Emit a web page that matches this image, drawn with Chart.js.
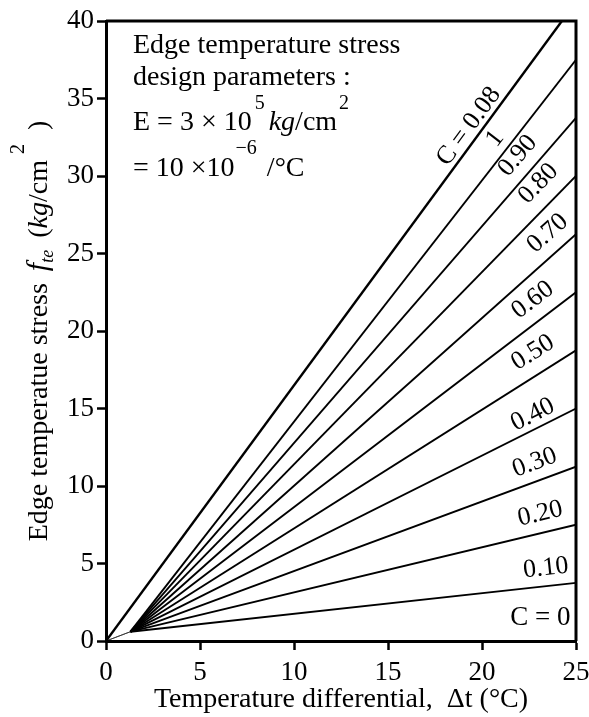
<!DOCTYPE html>
<html>
<head>
<meta charset="utf-8">
<script src="https://cdn.jsdelivr.net/npm/chart.js@4.4.1/dist/chart.umd.min.js"></script>
<style>
html,body{margin:0;padding:0;background:#fff;}
#wrap{width:589px;height:717px;}
</style>
</head>
<body>
<div id="wrap"><canvas id="stressChart" width="589" height="717"></canvas></div>
<script>

// curve names as printed next to each line
const coefficientLabels = ["C = 0.08","1","0.90","0.80","0.70","0.60","0.50","0.40","0.30","0.20","0.10"];

// where each curve starts (deg C, kg/cm2)
const startDt     = [0,0,0,0,0,0,0,0,0,0,0];
const startStress = [0,0,0,0,0,0,0,0,0,0,0];

// the point where the fan of lines meets near the origin
const hubDt     = [0,1.3,1.3,1.3,1.3,1.3,1.3,1.3,1.3,1.3,1.3];
const hubStress = [0,0.6,0.6,0.6,0.6,0.6,0.6,0.6,0.6,0.6,0.6];

// where each curve leaves the plot
const endDt     = [24.25,25,25,25,25,25,25,25,25,25,25];
const endStress = [40,37.5,33.75,30,26.25,22.5,18.75,15,11.25,7.5,3.75];

const xTicks = [0,5,10,15,20,25];
const yTicks = [0,5,10,15,20,25,30,35,40];

const SERIF = '"Liberation Serif", "DejaVu Serif", serif';

// label placement along the lines (layout only)
const tagPlacement = [
    {x:19.3, y:33.2},
    {x:20.7, y:32.4},
    {x:21.9, y:31.3},
    {x:23.0, y:29.5},
    {x:23.5, y:26.3},
    {x:22.7, y:22.0},
    {x:22.7, y:18.6},
    {x:22.7, y:14.6},
    {x:22.8, y:11.5},
    {x:23.1, y:8.2},
    {x:23.4, y:4.7}
];
const baseTag = {text:"C = 0", x:23.1, y:1.5};

const datasets = coefficientLabels.map((name,i)=>{

    return {
        label:name,
        data:[
            {x:startDt[i], y:startStress[i]},
            {x:hubDt[i], y:hubStress[i]},
            {x:endDt[i], y:endStress[i]}
        ],
        borderColor:"#000",
        borderWidth:i===0 ? 2.4 : 1.9,
        pointRadius:0,
        tension:0,
        segment:{
            borderColor:ctx => (ctx.p0DataIndex===0 && i>0) ? "rgba(0,0,0,0.25)" : "#000",
            borderWidth:ctx => (ctx.p0DataIndex===0 && i>0) ? 0.6 : (i===0 ? 2.4 : 1.9)
        }
    };

});

function drawRuns(ctx, runs, x, y){

    let cx = x;

    runs.forEach(r=>{

        ctx.font = r.font;
        cx += r.gap || 0;
        ctx.fillText(r.t, cx, y + (r.dy || 0));
        cx += ctx.measureText(r.t).width;

    });

    return cx - x;

}

function runsWidth(ctx, runs){

    let w = 0;

    runs.forEach(r=>{

        ctx.font = r.font;
        w += (r.gap || 0) + ctx.measureText(r.t).width;

    });

    return w;

}

const decorPlugin = {

    id:"decor",

    afterDatasetsDraw(chart){

        const ctx = chart.ctx;
        const area = chart.chartArea;
        const xs = chart.scales.x;
        const ys = chart.scales.y;

        ctx.save();

        // top and right frame
        ctx.strokeStyle = "#000";
        ctx.lineWidth = 3;
        ctx.beginPath();
        ctx.moveTo(area.left, area.top);
        ctx.lineTo(area.right, area.top);
        ctx.lineTo(area.right, area.bottom);
        ctx.stroke();

        ctx.fillStyle = "#000";
        ctx.textBaseline = "alphabetic";
        ctx.textAlign = "left";

        // design parameter box
        const big = "28px " + SERIF;
        const bigItalic = "italic 28px " + SERIF;
        const sup = "20px " + SERIF;

        drawRuns(ctx, [{t:"Edge temperature stress", font:big}], 133, 53);
        drawRuns(ctx, [{t:"design parameters :", font:big}], 133, 85);
        drawRuns(ctx, [
            {t:"E = 3 \u00d7 10", font:big},
            {t:"5", font:sup, dy:-21, gap:3},
            {t:"kg", font:bigItalic, gap:4},
            {t:"/cm", font:big},
            {t:"2", font:sup, dy:-21, gap:2}
        ], 133, 130);
        drawRuns(ctx, [
            {t:"= 10 \u00d710", font:big},
            {t:"\u22126", font:sup, dy:-22, gap:1},
            {t:" /\u00b0C", font:big, gap:3}
        ], 133, 176);

        // curve labels, turned along their lines
        ctx.font = "26px " + SERIF;
        ctx.textAlign = "center";
        ctx.textBaseline = "middle";

        tagPlacement.forEach((p,i)=>{

            const x1 = xs.getPixelForValue(hubDt[i]);
            const y1 = ys.getPixelForValue(hubStress[i]);
            const x2 = xs.getPixelForValue(endDt[i]);
            const y2 = ys.getPixelForValue(endStress[i]);
            const angle = Math.atan2(y2-y1, x2-x1);

            ctx.save();
            ctx.translate(xs.getPixelForValue(p.x), ys.getPixelForValue(p.y));
            ctx.rotate(angle);
            ctx.fillText(coefficientLabels[i], 0, 0);
            ctx.restore();

        });

        ctx.font = "27px " + SERIF;
        ctx.fillText(baseTag.text, xs.getPixelForValue(baseTag.x), ys.getPixelForValue(baseTag.y));

        // x axis title
        ctx.textAlign = "left";
        ctx.textBaseline = "alphabetic";
        const xRuns = [{t:"Temperature differential,  \u0394t (\u00b0C)", font:"28px " + SERIF}];
        const xw = runsWidth(ctx, xRuns);
        drawRuns(ctx, xRuns, (area.left+area.right)/2 - xw/2, 707);

        // y axis title
        const yRuns = [
            {t:"Edge temperatue stress", font:"28px " + SERIF},
            {t:"f", font:"italic 30px " + SERIF, gap:12},
            {t:"te", font:"italic 18px " + SERIF, dy:6},
            {t:"(", font:"28px " + SERIF, gap:12},
            {t:"kg", font:"italic 28px " + SERIF},
            {t:"/cm", font:"28px " + SERIF},
            {t:"2", font:"20px " + SERIF, dy:-23, gap:6},
            {t:")", font:"28px " + SERIF, gap:14}
        ];
        const yw = runsWidth(ctx, yRuns);
        ctx.translate(47, (area.top+area.bottom)/2);
        ctx.rotate(-Math.PI/2);
        drawRuns(ctx, yRuns, -yw/2, 0);

        ctx.restore();

    }

};

const ctx =
    document
    .getElementById("stressChart")
    .getContext("2d");

new Chart(ctx,{

    type:"line",

    data:{ datasets:datasets },

    options:{

        responsive:false,
        animation:false,

        layout:{
            padding:{top:21, right:13, left:0, bottom:0}
        },

        plugins:{
            legend:{display:false},
            tooltip:{enabled:false}
        },

        scales:{

            x:{
                type:"linear",
                min:0,
                max:25,
                afterBuildTicks:axis=>{ axis.ticks = xTicks.map(v=>({value:v})); },
                afterFit:axis=>{
                    axis.height = 76;
                    axis.paddingLeft = 0;
                    axis.paddingRight = 0;
                },
                grid:{drawOnChartArea:false, tickLength:9, tickWidth:2.5, tickColor:"#000"},
                border:{display:true, width:3, color:"#000"},
                ticks:{
                    color:"#000",
                    padding:7,
                    maxRotation:0,
                    font:{family:SERIF, size:27}
                }
            },

            y:{
                type:"linear",
                min:0,
                max:40,
                afterBuildTicks:axis=>{ axis.ticks = yTicks.map(v=>({value:v})); },
                afterFit:axis=>{
                    axis.width = 106;
                    axis.paddingTop = 0;
                    axis.paddingBottom = 0;
                },
                grid:{drawOnChartArea:false, tickLength:9, tickWidth:2.5, tickColor:"#000"},
                border:{display:true, width:3, color:"#000"},
                ticks:{
                    color:"#000",
                    padding:3,
                    font:{family:SERIF, size:27}
                }
            }

        }

    },

    plugins:[decorPlugin]

});

</script>
</body>
</html>
